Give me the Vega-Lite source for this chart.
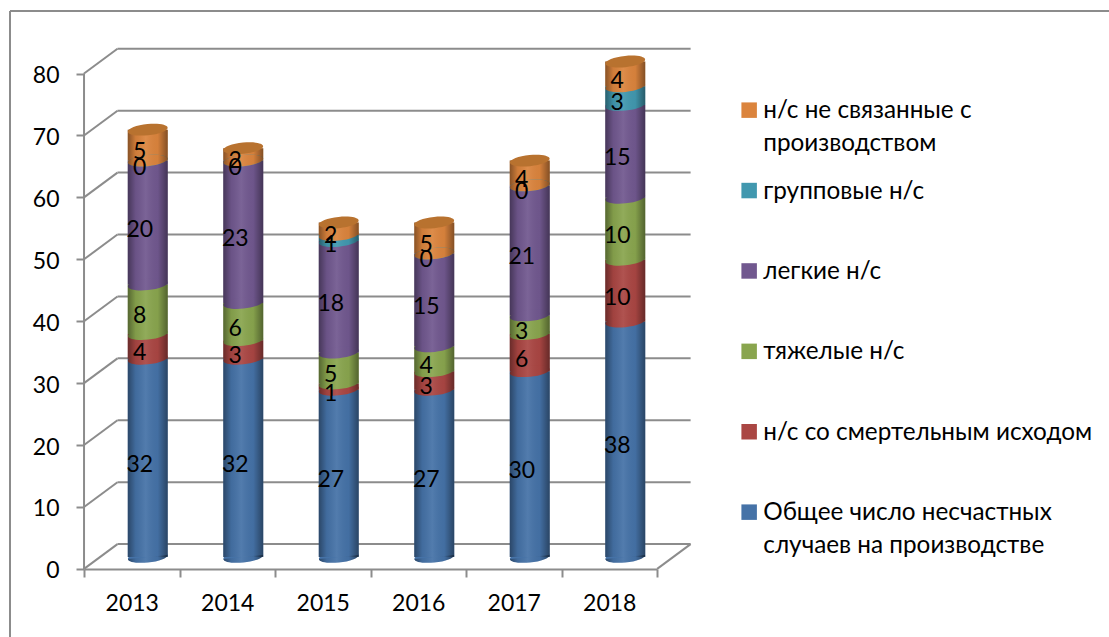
{
"$schema":"https://vega.github.io/schema/vega-lite/v6.json",
"width":1099,"height":626,
"autosize":{"type":"none"},
"padding":{"left":10,"top":11,"right":0,"bottom":0},
"background":"white",
"config":{"view":{"stroke":null},"font":"Lato, 'Noto Sans'"},
"datasets":{
"walls":[
{"line":"frameTop","u":-0.775,"v":90.1},{"line":"frameTop","u":10.73,"v":90.1},
{"line":"frameLeft","u":-0.775,"v":90.1},{"line":"frameLeft","u":-0.775,"v":-11},
{"line":"axisY","u":0,"v":0},{"line":"axisY","u":0,"v":80},
{"line":"floorRight","u":6,"v":0},{"line":"floorRight","u":6.35,"v":4},
{"line":"d0","u":0,"v":0},{"line":"d0","u":0.35,"v":4},{"line":"g0","u":0.35,"v":4},{"line":"g0","u":6.35,"v":4},
{"line":"d10","u":0,"v":10},{"line":"d10","u":0.35,"v":14},{"line":"g10","u":0.35,"v":14},{"line":"g10","u":6.35,"v":14},
{"line":"d20","u":0,"v":20},{"line":"d20","u":0.35,"v":24},{"line":"g20","u":0.35,"v":24},{"line":"g20","u":6.35,"v":24},
{"line":"d30","u":0,"v":30},{"line":"d30","u":0.35,"v":34},{"line":"g30","u":0.35,"v":34},{"line":"g30","u":6.35,"v":34},
{"line":"d40","u":0,"v":40},{"line":"d40","u":0.35,"v":44},{"line":"g40","u":0.35,"v":44},{"line":"g40","u":6.35,"v":44},
{"line":"d50","u":0,"v":50},{"line":"d50","u":0.35,"v":54},{"line":"g50","u":0.35,"v":54},{"line":"g50","u":6.35,"v":54},
{"line":"d60","u":0,"v":60},{"line":"d60","u":0.35,"v":64},{"line":"g60","u":0.35,"v":64},{"line":"g60","u":6.35,"v":64},
{"line":"d70","u":0,"v":70},{"line":"d70","u":0.35,"v":74},{"line":"g70","u":0.35,"v":74},{"line":"g70","u":6.35,"v":74},
{"line":"d80","u":0,"v":80},{"line":"d80","u":0.35,"v":84},{"line":"g80","u":0.35,"v":84},{"line":"g80","u":6.35,"v":84}
],
"rows":[
{"year":"2013","series":"Общее число несчастных|случаев на производстве","order":0,"value":32},
{"year":"2013","series":"н/с со смертельным исходом","order":1,"value":4},
{"year":"2013","series":"тяжелые н/с","order":2,"value":8},
{"year":"2013","series":"легкие н/с","order":3,"value":20},
{"year":"2013","series":"групповые н/с","order":4,"value":0},
{"year":"2013","series":"н/с не связанные с|производством","order":5,"value":5},
{"year":"2014","series":"Общее число несчастных|случаев на производстве","order":0,"value":32},
{"year":"2014","series":"н/с со смертельным исходом","order":1,"value":3},
{"year":"2014","series":"тяжелые н/с","order":2,"value":6},
{"year":"2014","series":"легкие н/с","order":3,"value":23},
{"year":"2014","series":"групповые н/с","order":4,"value":0},
{"year":"2014","series":"н/с не связанные с|производством","order":5,"value":2},
{"year":"2015","series":"Общее число несчастных|случаев на производстве","order":0,"value":27},
{"year":"2015","series":"н/с со смертельным исходом","order":1,"value":1},
{"year":"2015","series":"тяжелые н/с","order":2,"value":5},
{"year":"2015","series":"легкие н/с","order":3,"value":18},
{"year":"2015","series":"групповые н/с","order":4,"value":1},
{"year":"2015","series":"н/с не связанные с|производством","order":5,"value":2},
{"year":"2016","series":"Общее число несчастных|случаев на производстве","order":0,"value":27},
{"year":"2016","series":"н/с со смертельным исходом","order":1,"value":3},
{"year":"2016","series":"тяжелые н/с","order":2,"value":4},
{"year":"2016","series":"легкие н/с","order":3,"value":15},
{"year":"2016","series":"групповые н/с","order":4,"value":0},
{"year":"2016","series":"н/с не связанные с|производством","order":5,"value":5},
{"year":"2017","series":"Общее число несчастных|случаев на производстве","order":0,"value":30},
{"year":"2017","series":"н/с со смертельным исходом","order":1,"value":6},
{"year":"2017","series":"тяжелые н/с","order":2,"value":3},
{"year":"2017","series":"легкие н/с","order":3,"value":21},
{"year":"2017","series":"групповые н/с","order":4,"value":0},
{"year":"2017","series":"н/с не связанные с|производством","order":5,"value":4},
{"year":"2018","series":"Общее число несчастных|случаев на производстве","order":0,"value":38},
{"year":"2018","series":"н/с со смертельным исходом","order":1,"value":10},
{"year":"2018","series":"тяжелые н/с","order":2,"value":10},
{"year":"2018","series":"легкие н/с","order":3,"value":15},
{"year":"2018","series":"групповые н/с","order":4,"value":3},
{"year":"2018","series":"н/с не связанные с|производством","order":5,"value":4}
]},
"layer":[
{"data":{"name":"walls"},
 "mark":{"type":"line","color":"#8c8c8c","strokeWidth":2,"clip":false},
 "encoding":{
  "x":{"field":"u","type":"quantitative","scale":{"domain":[-0.775,10.73],"nice":false,"zero":false},"axis":null},
  "y":{"field":"v","type":"quantitative","scale":{"domain":[-11,90.1],"nice":false,"zero":false},
   "axis":{"title":null,"values":[0,10,20,30,40,50,60,70,80],"offset":-74,"domain":false,"grid":false,"tickColor":"#8c8c8c","tickWidth":2,"tickSize":8,"labelPadding":17,"labelOffset":2,"labelFontSize":23,"labelColor":"#000","labelFont":"Lato, 'Noto Sans'"}},
  "detail":{"field":"line"}}},
{"data":{"name":"rows"},
 "transform":[{"stack":"value","groupby":["year"],"sort":[{"field":"order","order":"ascending"}],"as":["y0","y1"]}],
 "encoding":{
  "x":{"field":"year","type":"nominal","scale":{"type":"band","range":[74,647],"paddingInner":0,"paddingOuter":0},
   "axis":{"title":null,"offset":-68,"labelAngle":0,"tickBand":"extent","domainColor":"#8c8c8c","domainWidth":2,"tickColor":"#8c8c8c","tickWidth":2,"tickSize":8,"labelPadding":15,"labelFontSize":23,"labelColor":"#000","labelFont":"Lato, 'Noto Sans'","grid":false}}
 },
 "layer":[
 {"mark":{"type":"bar","width":40,"xOffset":16,"yOffset":-12,"y2Offset":-12},
  "encoding":{"y":{"field":"y0","type":"quantitative","title":null},"y2":{"field":"y1"},
   "color":{"field":"series","type":"nominal",
    "scale":{"domain":["н/с не связанные с|производством","групповые н/с","легкие н/с","тяжелые н/с","н/с со смертельным исходом","Общее число несчастных|случаев на производстве"],
     "range":["#DB843D","#4198AF","#71588F","#89A54E","#AA4643","#4572A7"]},
    "legend":{"title":null,"orient":"none","legendX":727,"legendY":87,"padding":0,"symbolType":"square","symbolSize":240,"symbolStrokeWidth":0,"labelFontSize":24.3,"labelColor":"#000","labelFont":"Lato, 'Noto Sans'","labelLimit":0,"labelOffset":2,"rowPadding":21.4,"gridAlign":"all",
     "labelExpr":"indexof(datum.label,'|')>=0 ? split(datum.label,'|') : [datum.label,' ']",
     "encode":{"labels":{"update":{"lineHeight":{"value":33},"dy":{"value":1}}}}}}}},
 {"mark":{"type":"point","filled":true,"opacity":1,"size":1600,"xOffset":16,"yOffset":-12,"strokeWidth":0,"shape":"M -0.995 0.1 A 1 0.28 -6 1 0 0.995 -0.1 A 1 0.28 -6 1 0 -0.995 0.1 Z"},
  "encoding":{"y":{"field":"y0","type":"quantitative","title":null},
   "color":{"field":"series","type":"nominal","legend":null}}},
 {"transform":[{"filter":"datum.order==5"}],
  "mark":{"type":"bar","width":40,"xOffset":16,"yOffset":-12,"y2Offset":-12,
   "color":{"x1":0,"y1":0,"x2":1,"y2":0,"gradient":"linear","stops":[
    {"offset":0,"color":"rgba(0,0,0,0.38)"},{"offset":0.2,"color":"rgba(0,0,0,0.06)"},{"offset":0.45,"color":"rgba(255,255,255,0.07)"},{"offset":0.75,"color":"rgba(0,0,0,0.03)"},{"offset":1,"color":"rgba(0,0,0,0.4)"}]}},
  "encoding":{"y":{"field":"y1","type":"quantitative","title":null},"y2":{"datum":0}}},
 {"transform":[{"filter":"datum.order==0"}],
  "mark":{"type":"point","filled":true,"opacity":1,"size":1600,"xOffset":16,"yOffset":-12,"strokeWidth":0,"shape":"M -0.995 0.1 A 1 0.28 -6 0 0 0.995 -0.1 Z",
   "color":{"x1":0,"y1":0,"x2":1,"y2":0,"gradient":"linear","stops":[
    {"offset":0,"color":"rgba(0,0,0,0.38)"},{"offset":0.2,"color":"rgba(0,0,0,0.06)"},{"offset":0.45,"color":"rgba(255,255,255,0.07)"},{"offset":0.75,"color":"rgba(0,0,0,0.03)"},{"offset":1,"color":"rgba(0,0,0,0.4)"}]}},
  "encoding":{"y":{"field":"y0","type":"quantitative","title":null}}},
 {"transform":[{"filter":"datum.order==5"}],
  "mark":{"type":"point","filled":true,"opacity":1,"size":1600,"xOffset":16,"yOffset":-12,"strokeWidth":0,"color":"#B8722F","shape":"M -0.995 0.1 A 1 0.28 -6 1 0 0.995 -0.1 A 1 0.28 -6 1 0 -0.995 0.1 Z"},
  "encoding":{"y":{"field":"y1","type":"quantitative","title":null}}},
 {"mark":{"type":"text","fontSize":23,"color":"#000","xOffset":8,"yOffset":-5,"font":"Lato, 'Noto Sans'"},
  "encoding":{"y":{"field":"value","type":"quantitative","stack":"zero","bandPosition":0.5,"title":null},"order":{"field":"order"},"text":{"field":"value","type":"quantitative"}}}
 ]}
],
"resolve":{"scale":{"x":"independent"},"axis":{"x":"independent"}}
}
